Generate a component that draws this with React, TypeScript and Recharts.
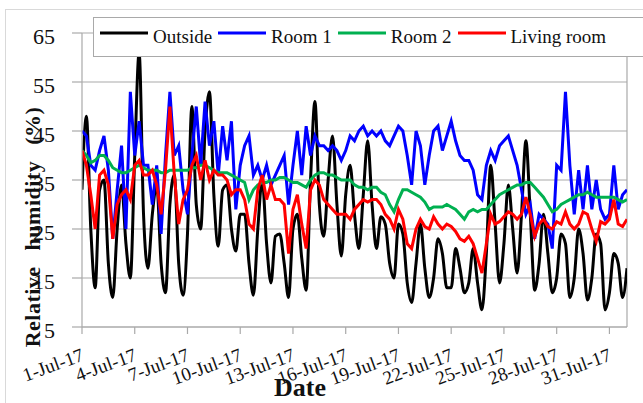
import React from 'react';
import { LineChart, Line, XAxis, YAxis, CartesianGrid, Legend, ReferenceLine, Label } from 'recharts';

const FONT = '"Liberation Serif", "Times New Roman", serif';

// tick positions in days since 1 Jul 2017 00:00
const tickDays = [0, 3, 6, 9, 12, 15, 18, 21, 24, 27, 30];
const dateLabels = [
  '1-Jul-17', '4-Jul-17', '7-Jul-17', '10-Jul-17', '13-Jul-17', '16-Jul-17',
  '19-Jul-17', '22-Jul-17', '25-Jul-17', '28-Jul-17', '31-Jul-17',
];
const humidityTicks = [5, 15, 25, 35, 45, 55, 65];

// relative humidity (%), one reading every 6 hours, one row per day
const outside = [
  33, 48, 25, 13,
  33, 35, 18, 11,
  25, 34, 22, 15,
  40, 61, 28, 17,
  28, 34, 18, 12,
  30, 36, 18, 11.5,
  24, 50, 30, 25,
  45, 53, 32, 21.5,
  33, 34, 25, 20.5,
  28, 28, 18, 11.5,
  25, 35, 22, 14,
  23.5, 24, 18, 11,
  25, 28, 19, 12.5,
  35, 51, 30, 23.5,
  35, 44, 30, 19.5,
  32, 38, 28, 21,
  32, 43, 30, 21,
  27.5, 26, 18, 15,
  26, 24, 14, 10,
  18, 26, 17, 11,
  15, 23, 20, 13,
  13, 21, 17, 12,
  14, 21, 14, 8.5,
  20, 38, 26, 14,
  22, 34, 25, 16,
  28, 43, 28, 12.5,
  18, 28, 20, 12,
  15, 24, 22, 11,
  15, 25, 20, 10.5,
  15, 24, 22, 8.5,
  12, 20, 18, 11,
  17,
];

const room1 = [
  45, 44, 38, 37,
  41, 44, 37, 23,
  33, 42, 25, 53,
  40, 47, 38, 38,
  30, 38, 24, 40,
  53, 40, 42, 33,
  28, 40, 50, 38,
  51, 42, 47, 36,
  46, 39, 47, 29,
  38, 42, 44, 36,
  38, 35, 38, 34,
  36, 38, 40, 30,
  38, 45, 36, 46,
  40, 44, 42, 42,
  41, 42, 41, 39,
  41, 44, 43, 45,
  46, 44, 45, 44,
  45, 43, 42, 44,
  46, 45, 40, 34,
  45, 42, 34, 40,
  45, 46, 41, 44,
  47, 43, 40, 39,
  39, 37, 32, 31,
  38, 41, 39, 42,
  43, 44, 41, 38,
  33, 28, 30, 23,
  28, 27, 26, 21,
  38, 37, 53, 38,
  28, 37, 29, 38,
  29, 35, 29, 27,
  28, 38, 29, 32,
  33,
];

const room2 = [
  41, 40, 38.5, 39,
  40, 40, 39, 37.5,
  37, 36.5, 36.5, 37,
  37.5, 38, 37.5, 37,
  37, 37, 36.5, 36.5,
  37, 37, 37, 37,
  37, 37.5, 37.5, 38,
  38, 37.5, 37, 36.5,
  36.5, 36.5, 36, 35.5,
  35, 34.5, 31, 33,
  34, 34.5, 34.5, 35,
  35, 35.5, 35.5, 35,
  34.5, 34.5, 34, 33.5,
  35, 36, 36.5, 36.5,
  36, 36, 35.5, 35,
  35, 35, 34, 33.5,
  33.5, 33, 33.5, 33.5,
  32.5, 32, 30, 28.5,
  31, 33, 33, 32.5,
  32, 31.5, 30.5, 29,
  29.5, 29.5, 29.5, 30,
  29.5, 29, 28, 27,
  28.5, 29, 28.5, 29,
  29, 30, 31, 32,
  32.5, 33, 33.5, 34,
  34, 34.5, 34.5, 33.5,
  32.5, 31.5, 30, 28.5,
  29, 30, 30.5, 31,
  31.5, 32, 32, 32.5,
  32, 31.5, 31.5, 31.5,
  31.5, 31.5, 31, 30.5,
  31,
];

const livingRoom = [
  41, 38, 32, 25,
  36, 37, 34, 23,
  30, 32, 33, 31,
  38, 39, 36, 36,
  37, 34, 28, 37,
  50, 36, 26, 31,
  33, 38, 40, 35,
  39, 35, 37, 36,
  36, 35, 32, 33,
  33, 31, 26, 25,
  33, 36, 31, 34,
  31, 31, 30, 20,
  29, 32, 26, 21,
  33, 35, 34, 31,
  30, 29, 28, 28,
  28, 27, 29, 30,
  31, 30.5, 31, 31,
  30, 28, 27, 25,
  29, 27, 22, 21,
  25, 27, 25.5, 25,
  27.5, 26, 25, 26,
  25.5, 24.5, 23, 22.5,
  23.5, 22, 19, 16,
  22, 28, 26, 26.5,
  27.5, 28.5, 28, 27,
  28, 31.5, 28, 23.5,
  26, 27, 25.5, 25,
  26.5, 26, 28.5, 26,
  25, 26, 28.5, 28,
  25, 22.5, 26.5, 26,
  27, 31, 26, 25.5,
  27,
];

const series = [
  { key: 'outside', name: 'Outside', color: '#000000', curve: 'monotone' as const },
  { key: 'room1', name: 'Room 1', color: '#0000ff', curve: 'linear' as const },
  { key: 'room2', name: 'Room 2', color: '#00b050', curve: 'linear' as const },
  { key: 'living', name: 'Living room', color: '#ff0000', curve: 'linear' as const },
];

const data = outside.map((v, i) => ({
  t: i / 4,
  outside: v,
  room1: room1[i],
  room2: room2[i],
  living: livingRoom[i],
}));

const GRID = '#a9a9a9';

const DateTick = ({ x, y, payload }: any) => {
  const label = dateLabels[tickDays.indexOf(payload.value)];
  const ax = x + 3;
  const ay = y + 26;
  return (
    <text
      x={ax}
      y={ay}
      textAnchor="end"
      transform={`rotate(-20, ${ax}, ${ay})`}
      fontFamily={FONT}
      fontSize={19}
      fill="#111"
    >
      {label}
    </text>
  );
};

const HumidityTick = ({ x, y, payload }: any) => (
  <text x={x} y={y + 11} textAnchor="end" fontFamily={FONT} fontSize={22} fill="#111">
    {payload.value}
  </text>
);

const LegendBox = () => (
  <div
    style={{
      boxSizing: 'border-box',
      width: 600,
      height: 40,
      border: `1px solid ${GRID}`,
      background: '#fff',
      display: 'flex',
      alignItems: 'center',
      paddingLeft: 6,
      fontFamily: FONT,
      fontSize: 19,
      color: '#111',
      whiteSpace: 'nowrap',
    }}
  >
    {series.map((s) => (
      <div key={s.key} style={{ display: 'flex', alignItems: 'center', marginRight: 6 }}>
        <svg width={48} height={6} style={{ marginTop: -8 }}>
          <line x1={0} y1={3} x2={48} y2={3} stroke={s.color} strokeWidth={3} />
        </svg>
        <span style={{ marginLeft: 5 }}>{s.name}</span>
      </div>
    ))}
  </div>
);

export default function App() {
  return (
    <div style={{ position: 'absolute', left: 0, top: 0, width: 643, height: 403, overflow: 'hidden', background: '#fff' }}>
      <div
        style={{
          position: 'absolute',
          left: 5,
          top: 9,
          width: 700,
          height: 500,
          border: '1px solid #d9d9d9',
        }}
      />
      <div style={{ position: 'absolute', left: 0, top: 0 }}>
        <LineChart
          width={643}
          height={403}
          data={data}
          margin={{ top: 33, right: 16, bottom: 26, left: 42 }}
          style={{ fontFamily: FONT }}
        >
          <CartesianGrid vertical={false} stroke={GRID} strokeWidth={1.2} />
          <ReferenceLine x={31} stroke={GRID} strokeWidth={1.2} />
          <XAxis
            type="number"
            dataKey="t"
            domain={[0, 31]}
            ticks={tickDays}
            interval={0}
            tick={<DateTick />}
            tickSize={7}
            tickMargin={0}
            height={50}
            stroke={GRID}
            strokeWidth={1.2}
            allowDataOverflow
          >
            <Label
              content={() => (
                <text x={300} y={396} textAnchor="middle" fontFamily={FONT} fontSize={26} fontWeight="bold" fill="#111">
                  Date
                </text>
              )}
            />
          </XAxis>
          <YAxis
            domain={[5, 65]}
            ticks={humidityTicks}
            interval={0}
            tick={<HumidityTick />}
            tickSize={10}
            tickMargin={17}
            width={40}
            stroke={GRID}
            strokeWidth={1.2}
            allowDataOverflow
          >
            <Label
              content={() => (
                <text
                  x={40}
                  y={227}
                  textAnchor="middle"
                  transform="rotate(-90, 40, 227)"
                  fontFamily={FONT}
                  fontSize={22}
                  fontWeight="bold"
                  wordSpacing={10}
                  letterSpacing={0.5}
                  fill="#111"
                >
                  Relative humidity (%)
                </text>
              )}
            />
          </YAxis>
          {series.map((s) => (
            <Line
              key={s.key}
              type={s.curve}
              dataKey={s.key}
              name={s.name}
              stroke={s.color}
              strokeWidth={3}
              dot={false}
              activeDot={false}
              isAnimationActive={false}
            />
          ))}
          <Legend
            layout="horizontal"
            verticalAlign="middle"
            align="center"
            content={<LegendBox />}
            wrapperStyle={{ left: 93, top: 17, width: 600, height: 40 }}
          />
        </LineChart>
      </div>
    </div>
  );
}
